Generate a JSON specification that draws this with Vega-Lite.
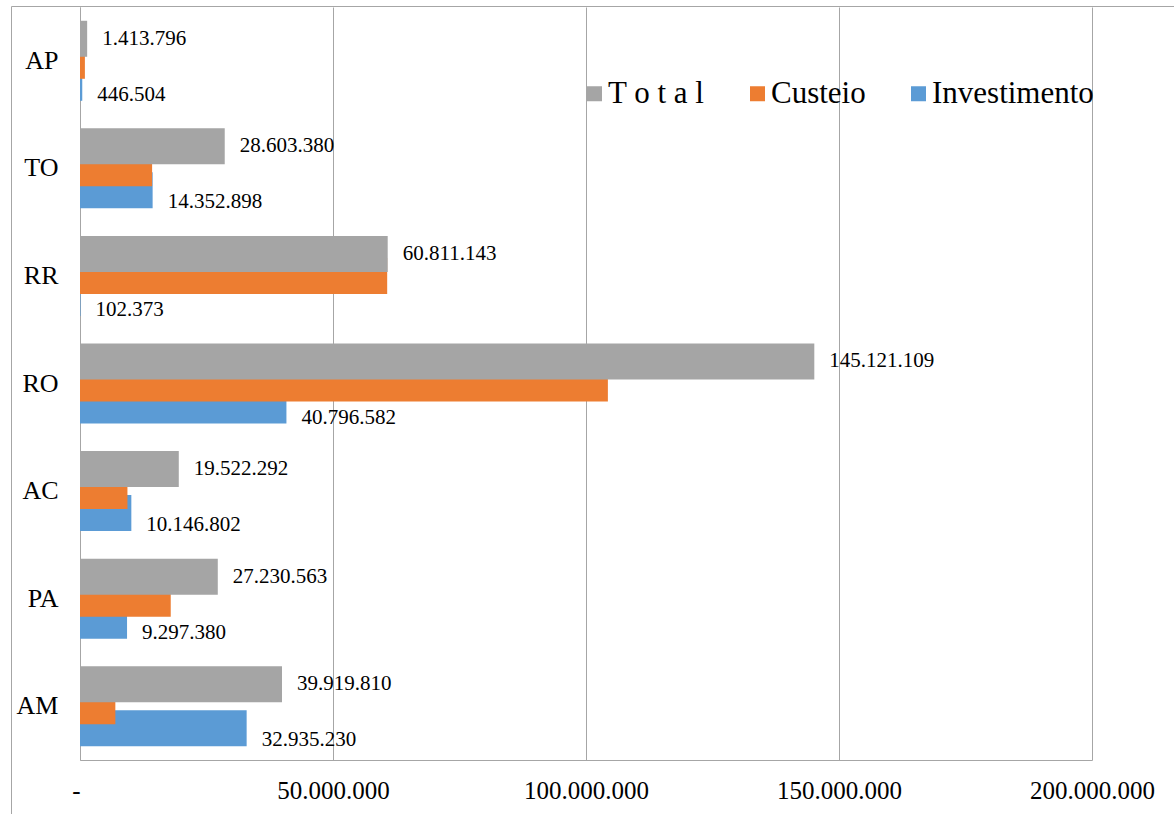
{
  "$schema": "https://vega.github.io/schema/vega-lite/v6.json",
  "width": 1012,
  "height": 753,
  "autosize": "none",
  "padding": {"left": 80, "top": 7, "right": 82, "bottom": 54},
  "background": "white",
  "config": {
    "locale": {"number": {"decimal": ",", "thousands": ".", "grouping": [3], "currency": ["R$", ""]}},
    "view": {"stroke": null},
    "font": "Liberation Serif"
  },
  "data": {
    "values": [
      {"uf": "AP", "serie": "Investimento", "valor": 446504},
      {"uf": "TO", "serie": "Investimento", "valor": 14352898},
      {"uf": "RR", "serie": "Investimento", "valor": 102373},
      {"uf": "RO", "serie": "Investimento", "valor": 40796582},
      {"uf": "AC", "serie": "Investimento", "valor": 10146802},
      {"uf": "PA", "serie": "Investimento", "valor": 9297380},
      {"uf": "AM", "serie": "Investimento", "valor": 32935230},
      {"uf": "AP", "serie": "Custeio", "valor": 967292},
      {"uf": "TO", "serie": "Custeio", "valor": 14250482},
      {"uf": "RR", "serie": "Custeio", "valor": 60708770},
      {"uf": "RO", "serie": "Custeio", "valor": 104324527},
      {"uf": "AC", "serie": "Custeio", "valor": 9375490},
      {"uf": "PA", "serie": "Custeio", "valor": 17933183},
      {"uf": "AM", "serie": "Custeio", "valor": 6984580},
      {"uf": "AP", "serie": "T o t a l", "valor": 1413796},
      {"uf": "TO", "serie": "T o t a l", "valor": 28603380},
      {"uf": "RR", "serie": "T o t a l", "valor": 60811143},
      {"uf": "RO", "serie": "T o t a l", "valor": 145121109},
      {"uf": "AC", "serie": "T o t a l", "valor": 19522292},
      {"uf": "PA", "serie": "T o t a l", "valor": 27230563},
      {"uf": "AM", "serie": "T o t a l", "valor": 39919810}
    ]
  },
  "encoding": {
    "y": {
      "field": "uf",
      "type": "nominal",
      "sort": ["AP", "TO", "RR", "RO", "AC", "PA", "AM"],
      "scale": {"paddingInner": 0.386, "paddingOuter": 0.193},
      "axis": {
        "title": null,
        "ticks": false,
        "labelFontSize": 26,
        "labelFont": "Liberation Serif",
        "labelColor": "black",
        "labelPadding": 22,
        "domainColor": "#a6a6a6",
        "domainWidth": 1
      }
    },
    "yOffset": {
      "field": "serie",
      "type": "nominal",
      "sort": ["T o t a l", "Custeio", "Investimento"],
      "scale": {"paddingInner": 0, "paddingOuter": 0}
    },
    "x": {
      "field": "valor",
      "type": "quantitative",
      "stack": null,
      "scale": {"domain": [0, 200000000], "nice": false},
      "axis": {
        "title": null,
        "values": [0, 50000000, 100000000, 150000000, 200000000],
        "labelExpr": "datum.value == 0 ? '-' : format(datum.value, ',d')",
        "labelFlush": false,
        "labelAlign": {"condition": {"test": "datum.value == 0", "value": "right"}, "value": "center"},
        "ticks": false,
        "labelFontSize": 25,
        "labelFont": "Liberation Serif",
        "labelColor": "black",
        "labelPadding": 18,
        "domainColor": "#a6a6a6",
        "grid": true,
        "gridColor": "#a6a6a6",
        "gridWidth": 1
      }
    }
  },
  "layer": [
    {
      "mark": {"type": "bar", "height": 36},
      "encoding": {
        "color": {
          "field": "serie",
          "type": "nominal",
          "scale": {"domain": ["T o t a l", "Custeio", "Investimento"], "range": ["#A5A5A5", "#ED7D31", "#5B9BD5"]},
          "legend": {
            "title": null,
            "orient": "none",
            "direction": "horizontal",
            "legendX": 499,
            "legendY": 71,
            "symbolType": "square",
            "symbolSize": 225,
            "symbolStrokeWidth": 0,
            "labelFont": "Liberation Serif",
            "labelFontSize": 31,
            "labelColor": "black",
            "labelOffset": -2,
            "columnPadding": 37,
            "padding": 0,
            "labelLimit": 400
          }
        }
      }
    },
    {
      "transform": [{"filter": "datum.serie == 'T o t a l'"}],
      "mark": {"type": "text", "align": "left", "baseline": "middle", "dx": 15, "fontSize": 21, "font": "Liberation Serif", "color": "black"},
      "encoding": {
        "text": {"field": "valor", "type": "quantitative", "format": ",d"}
      }
    },
    {
      "transform": [{"filter": "datum.serie == 'Investimento'"}],
      "mark": {"type": "text", "align": "left", "baseline": "middle", "dx": 15, "dy": 12, "fontSize": 21, "font": "Liberation Serif", "color": "black"},
      "encoding": {
        "text": {"field": "valor", "type": "quantitative", "format": ",d"}
      }
    },
    {
      "transform": [{"filter": "datum.uf == 'AP' && datum.serie == 'Custeio'"}],
      "mark": {"type": "point", "opacity": 0},
      "encoding": {
        "shape": {
          "field": "serie",
          "type": "nominal",
          "legend": {
            "title": null,
            "orient": "none",
            "legendX": -69,
            "legendY": -1,
            "padding": 1200,
            "strokeColor": "#a6a6a6",
            "fillColor": null,
            "labelExpr": "''",
            "labelFontSize": 1,
            "symbolSize": 1,
            "symbolOpacity": 0,
            "labelOpacity": 0
          }
        }
      }
    }
  ]
}
